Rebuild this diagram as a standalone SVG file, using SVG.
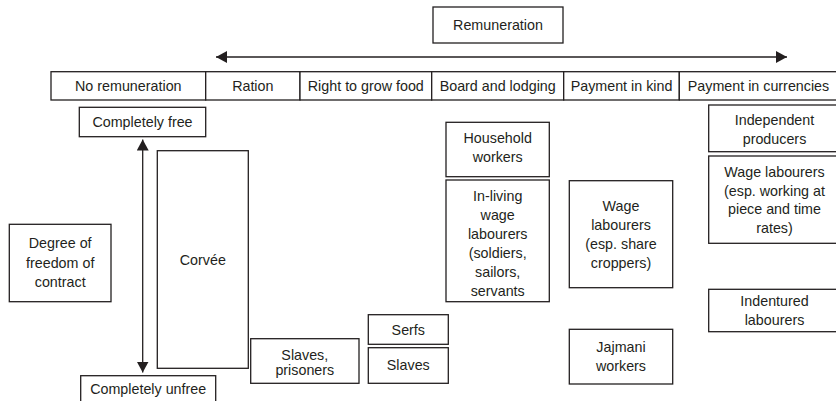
<svg xmlns="http://www.w3.org/2000/svg" width="836" height="401" viewBox="0 0 836 401">
<style>
rect{fill:#fff;stroke:#231f20;stroke-width:1.3}
text{font-family:"Liberation Sans",Arial,sans-serif;font-size:14.3px;fill:#231f20;text-anchor:middle}
.c{stroke:#231f20;stroke-width:1.3;fill:none}
</style>
<defs>
<marker id="ah" viewBox="0 0 11 12" markerWidth="11" markerHeight="12" refX="11" refY="6" orient="auto-start-reverse" markerUnits="userSpaceOnUse">
<path d="M0,0 L11,6 L0,12 z" fill="#231f20"/>
</marker>
</defs>
<g id="connectors">
<line class="c" x1="216" y1="57" x2="787" y2="57" marker-start="url(#ah)" marker-end="url(#ah)"/>
<line class="c" x1="142.7" y1="139.5" x2="142.7" y2="372.5" marker-start="url(#ah)" marker-end="url(#ah)"/>
</g>
<g id="remuneration"><rect x="433" y="7" width="130" height="36"/><text x="498" y="30">Remuneration</text></g>
<g id="h-none"><rect x="51" y="71.7" width="154.7" height="28.3"/><text x="128.3" y="91">No remuneration</text></g>
<g id="h-ration"><rect x="205.7" y="71.7" width="94.3" height="28.3"/><text x="252.8" y="91">Ration</text></g>
<g id="h-grow"><rect x="300" y="71.7" width="131.7" height="28.3"/><text x="365.8" y="91">Right to grow food</text></g>
<g id="h-board"><rect x="431.7" y="71.7" width="132" height="28.3"/><text x="497.7" y="91">Board and lodging</text></g>
<g id="h-kind"><rect x="563.7" y="71.7" width="115.6" height="28.3"/><text x="621.5" y="91">Payment in kind</text></g>
<g id="h-curr"><rect x="679.3" y="71.7" width="159" height="28.3"/><text x="758.5" y="91">Payment in currencies</text></g>
<g id="free"><rect x="79.3" y="107.3" width="126.4" height="29.4"/><text x="142.5" y="127">Completely free</text></g>
<g id="unfree"><rect x="80.7" y="375.7" width="135" height="30"/><text x="148.2" y="393.5">Completely unfree</text></g>
<g id="degree"><rect x="9.3" y="224.3" width="101.7" height="77.4"/><text x="60.2" y="248">Degree of</text><text x="60.2" y="267.5">freedom of</text><text x="60.2" y="287">contract</text></g>
<g id="corvee"><rect x="157.3" y="150.7" width="91" height="217.6"/><text x="202.8" y="265">Corvée</text></g>
<g id="slaves-prisoners"><rect x="250.7" y="338.7" width="108.3" height="44.6"/><text x="304.8" y="360">Slaves,</text><text x="304.8" y="375">prisoners</text></g>
<g id="serfs"><rect x="368.3" y="314.7" width="80" height="29.6"/><text x="408.3" y="335">Serfs</text></g>
<g id="slaves"><rect x="368.3" y="347.7" width="80" height="35.6"/><text x="408.3" y="370">Slaves</text></g>
<g id="household"><rect x="446" y="122.3" width="103.3" height="54.4"/><text x="497.7" y="143">Household</text><text x="497.7" y="162">workers</text></g>
<g id="inliving"><rect x="446" y="180" width="103.3" height="121.7"/><text x="497.7" y="201">In-living</text><text x="497.7" y="220">wage</text><text x="497.7" y="239">labourers</text><text x="497.7" y="258">(soldiers,</text><text x="497.7" y="277">sailors,</text><text x="497.7" y="296">servants</text></g>
<g id="sharecroppers"><rect x="569.3" y="180.7" width="103.4" height="107"/><text x="621" y="211">Wage</text><text x="621" y="230">labourers</text><text x="621" y="249">(esp. share</text><text x="621" y="268">croppers)</text></g>
<g id="jajmani"><rect x="569.3" y="329.3" width="103.4" height="54.7"/><text x="621" y="352">Jajmani</text><text x="621" y="371">workers</text></g>
<g id="independent"><rect x="708.7" y="105" width="132" height="46.7"/><text x="774.5" y="125">Independent</text><text x="774.5" y="144">producers</text></g>
<g id="wage-piece"><rect x="708.7" y="156" width="132" height="87.3"/><text x="774.5" y="177">Wage labourers</text><text x="774.5" y="195.7">(esp. working at</text><text x="774.5" y="214.3">piece and time</text><text x="774.5" y="233">rates)</text></g>
<g id="indentured"><rect x="708.7" y="289.3" width="132" height="42.4"/><text x="774.5" y="306">Indentured</text><text x="774.5" y="325">labourers</text></g>
</svg>
